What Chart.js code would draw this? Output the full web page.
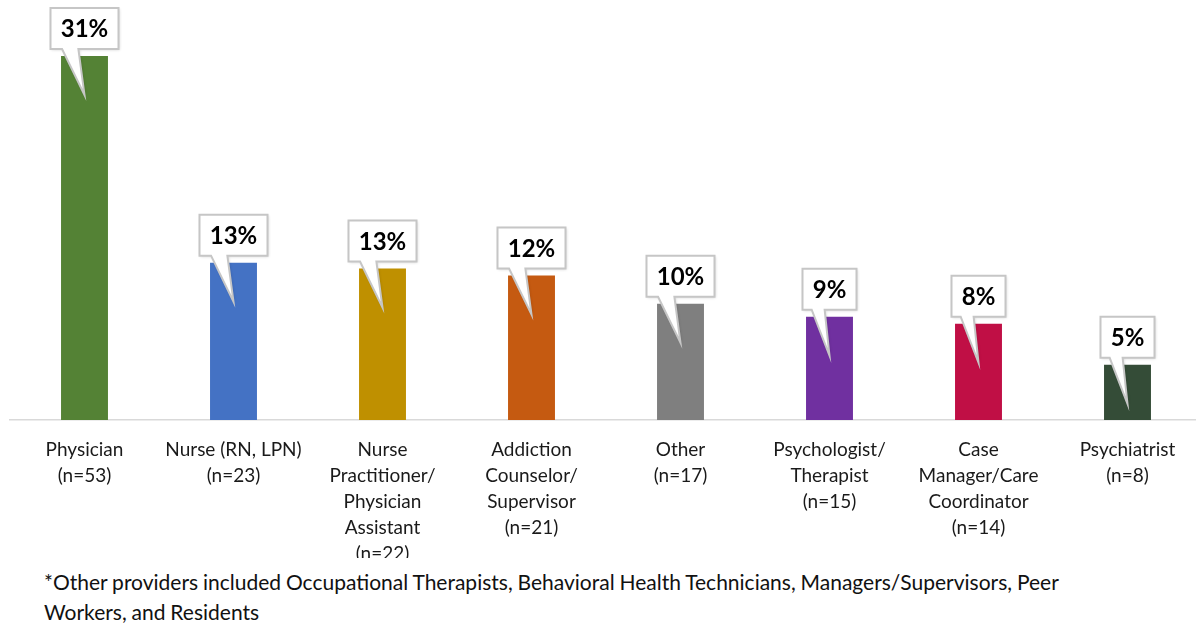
<!DOCTYPE html>
<html>
<head>
<meta charset="utf-8">
<script src="https://cdn.jsdelivr.net/npm/chart.js@4.4.1/dist/chart.umd.min.js"></script>
<style>
  html, body { margin: 0; padding: 0; background: #fff; overflow: hidden; }
  #wrap { position: relative; width: 1196px; height: 627px; overflow: hidden; }
  #chartBox { position: absolute; left: 0; top: 0; width: 1212px; height: 558px; }
  #note {
    position: absolute; left: 44px; top: 567px; width: 1060px;
    font-family: Lato, sans-serif; font-size: 21px; line-height: 30px;
    color: #111; word-spacing: -0.5px;
  }
</style>
</head>
<body>
<div id="wrap">
  <div id="chartBox"><canvas id="roleChart"></canvas></div>
  <div id="note">*Other providers included Occupational Therapists, Behavioral Health Technicians, Managers/Supervisors, Peer Workers, and Residents</div>
</div>
<script>
// ---------- Data ---------- //
const categories = [
  ['Physician', '(n=53)'],
  ['Nurse (RN, LPN)', '(n=23)'],
  ['Nurse', 'Practitioner/', 'Physician', 'Assistant', '(n=22)'],
  ['Addiction', 'Counselor/', 'Supervisor', '(n=21)'],
  ['Other', '(n=17)'],
  ['Psychologist/', 'Therapist', '(n=15)'],
  ['Case', 'Manager/Care', 'Coordinator', '(n=14)'],
  ['Psychiatrist', '(n=8)']
];
const shares = [31.0, 13.4, 12.9, 12.3, 9.9, 8.8, 8.2, 4.7];
const shareLabels = ['31%', '13%', '13%', '12%', '10%', '9%', '8%', '5%'];
const barColors = ['#548235', '#4472C4', '#BF9000', '#C55A11', '#7F7F7F', '#7030A0', '#C00F45', '#344C37'];

// ---------- Callout labels ---------- //
const calloutPlugin = {
  id: 'callouts',
  afterDatasetsDraw(chart) {
    const ctx = chart.ctx;
    const bars = chart.getDatasetMeta(0).data;
    ctx.save();
    ctx.font = 'bold 24px Lato, sans-serif';
    bars.forEach((bar, i) => {
      const text = shareLabels[i];
      const cx = bar.x;
      const top = bar.y;
      const w = Math.round(ctx.measureText(text).width) + 20;
      const h = 41;
      const left = cx - w / 2;
      const bottom = top - 7;
      const boxTop = bottom - h;

      ctx.beginPath();
      ctx.moveTo(left, boxTop);
      ctx.lineTo(left + w, boxTop);
      ctx.lineTo(left + w, bottom);
      ctx.lineTo(cx - w * 0.09, bottom);
      ctx.lineTo(cx, top + 39);
      ctx.lineTo(cx - w * 0.33, bottom);
      ctx.lineTo(left, bottom);
      ctx.closePath();
      ctx.shadowColor = 'rgba(0,0,0,0.18)';
      ctx.shadowBlur = 3;
      ctx.shadowOffsetX = 1;
      ctx.shadowOffsetY = 1;
      ctx.fillStyle = '#fff';
      ctx.fill();
      ctx.shadowColor = 'transparent';
      ctx.lineWidth = 2;
      ctx.strokeStyle = '#c6c6c6';
      ctx.stroke();

      ctx.fillStyle = '#000';
      ctx.textAlign = 'center';
      ctx.textBaseline = 'middle';
      ctx.fillText(text, cx, boxTop + h / 2 + 1);
    });
    ctx.restore();
  }
};

// ---------- Chart ---------- //
new Chart(document.getElementById('roleChart'), {
  type: 'bar',
  data: {
    labels: categories,
    datasets: [{
      data: shares,
      backgroundColor: barColors,
      categoryPercentage: 1,
      barPercentage: 0.315
    }]
  },
  options: {
    responsive: true,
    maintainAspectRatio: false,
    animation: false,
    layout: { padding: { top: 9, left: 10, right: 10, bottom: 0 } },
    plugins: {
      legend: { display: false },
      tooltip: { enabled: false }
    },
    scales: {
      x: {
        grid: { display: false },
        border: { display: true, color: '#d9d9d9', width: 1.5 },
        ticks: {
          color: '#1a1a1a',
          padding: 9,
          maxRotation: 0,
          autoSkip: false,
          font: { family: 'Lato', size: 19, lineHeight: 1.37 }
        },
        afterFit: (scale) => { scale.height = 138; }
      },
      y: {
        display: false,
        min: 0,
        max: 35
      }
    }
  },
  plugins: [calloutPlugin]
});
</script>
</body>
</html>
